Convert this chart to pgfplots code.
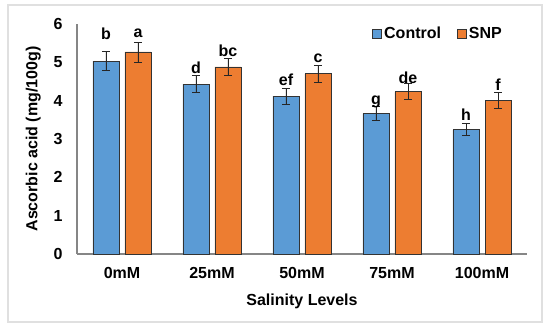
\documentclass[border=0pt]{standalone}
\usepackage{pgfplots}
\pgfplotsset{compat=1.18}
\usepackage{pgfplotstable}
\usepackage{fontspec}
\setmainfont{Liberation Sans}
\definecolor{cblue}{HTML}{5B9BD5}
\definecolor{corange}{HTML}{ED7D31}
\definecolor{axgray}{HTML}{868686}
\newcommand{\ff}{\bfseries\fontsize{16bp}{19bp}\selectfont}

\pgfplotstableread{
x y e ly lab
0 5.03 0.25 5.59 b
1 4.43 0.22 4.72 d
2 4.12 0.21 4.39 ef
3 3.66 0.18 3.89 g
4 3.24 0.16 3.47 h
}\ctrl
\pgfplotstableread{
x y e ly lab
0 5.27 0.26 5.64 a
1 4.88 0.23 5.14 bc
2 4.70 0.22 4.99 c
3 4.23 0.21 4.46 de
4 4.00 0.21 4.26 f
}\snp

\begin{document}
\begin{tikzpicture}
\begin{axis}[
  scale only axis,
  width=450bp, height=230bp,
  at={(0,0)}, anchor=south west,
  xmin=-0.5, xmax=4.5, ymin=0, ymax=6,
  xtick={0,1,2,3,4},
  xticklabels={0mM,25mM,50mM,75mM,100mM},
  ytick={0,1,2,3,4,5,6},
  major tick length=0pt,
  axis x line=bottom, axis y line=left,
  axis line style={-, axgray, line width=1.2bp},
  /pgf/number format/assume math mode=true,
  ticklabel style={font=\ff},
  yticklabel style={xshift=-11bp},
  xticklabel style={yshift=-10bp},
  xlabel={Salinity Levels},
  ylabel={Ascorbic acid (mg/100g)},
  label style={font=\ff},
  xlabel style={yshift=-8bp},
  ylabel style={yshift=6bp},
  ybar, bar width=26bp,
  legend style={at={(rel axis cs:0.656,0.957)}, anchor=west, draw=none, fill=none,
    font=\ff, legend columns=2, inner sep=0pt,
    /tikz/every even column/.append style={column sep=14bp}},
  legend image code/.code={\draw[#1, line width=0.8bp] (0bp,-4.5bp) rectangle (9bp,4.5bp);},
  clip=false,
]
\addplot[fill=cblue, draw=black!80, line width=0.8bp, bar shift=-16bp,
  error bars/.cd, y dir=both, y explicit,
  error bar style={black!85, line width=0.9bp},
  error mark options={rotate=90, mark size=4bp, black!85, line width=0.9bp}]
  table[x=x, y=y, y error=e] {\ctrl};
\addlegendentry{Control}
\addplot[fill=corange, draw=black!80, line width=0.8bp, bar shift=16bp,
  error bars/.cd, y dir=both, y explicit,
  error bar style={black!85, line width=0.9bp},
  error mark options={rotate=90, mark size=4bp, black!85, line width=0.9bp}]
  table[x=x, y=y, y error=e] {\snp};
\addlegendentry{SNP}
\addplot[draw=none, fill=none, bar shift=-16bp, forget plot,
  nodes near coords, point meta=explicit symbolic,
  every node near coord/.append style={anchor=base, inner sep=0pt, font=\ff, black}]
  table[x=x, y=ly, meta=lab] {\ctrl};
\addplot[draw=none, fill=none, bar shift=16bp, forget plot,
  nodes near coords, point meta=explicit symbolic,
  every node near coord/.append style={anchor=base, inner sep=0pt, font=\ff, black}]
  table[x=x, y=ly, meta=lab] {\snp};
\end{axis}
\draw[black!12, line width=1.2bp] (-69bp,-68bp) rectangle (465bp,249bp);
\pgfresetboundingbox
\path (-77bp,-76bp) rectangle (473bp,254bp);
\end{tikzpicture}
\end{document}
